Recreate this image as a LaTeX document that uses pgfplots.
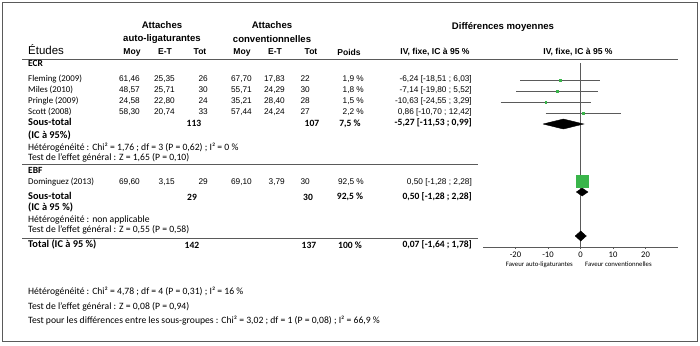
\documentclass[border=0pt]{standalone}
\usepackage{fontspec}
\setmainfont{Carlito}
\newfontfamily\arial{Liberation Sans}
\usepackage{pgfplots}
\pgfplotsset{compat=1.18}
\definecolor{fgreen}{RGB}{57,181,74}
\definecolor{lgray}{RGB}{90,90,90}
\newcommand\row[9]{%
 \node[num] at (140,#1) {#2};
 \node[num] at (175,#1) {#3};
 \node[num] at (208,#1) {#4};
 \node[num] at (252,#1) {#5};
 \node[num] at (285,#1) {#6};
 \node[num] at (310,#1) {#7};
 \node[num] at (364,#1) {#8};
 \node[num] at (472,#1) {#9};}
\begin{document}
\begin{tikzpicture}[x=1bp,y=-1bp,
  hdr/.style={inner sep=0pt,font=\arial\bfseries\fontsize{9.6}{11}\selectfont},
  ch/.style={inner sep=0pt,font=\arial\bfseries\fontsize{8.6}{10}\selectfont},
  nm/.style={inner sep=0pt,anchor=mid west,font=\fontsize{8.9}{10}\selectfont},
  num/.style={inner sep=0pt,anchor=mid east,font=\arial\fontsize{8.3}{10}\selectfont},
  grp/.style={inner sep=0pt,anchor=mid west,font=\bfseries\fontsize{9.5}{11}\selectfont},
  sb/.style={inner sep=0pt,font=\bfseries\fontsize{10.4}{12}\selectfont},
  sbn/.style={inner sep=0pt,font=\bfseries\fontsize{9.6}{12}\selectfont},
  tx/.style={inner sep=0pt,anchor=mid west,font=\fontsize{9.7}{11}\selectfont},
  ft/.style={inner sep=0pt,anchor=mid west,font=\fontsize{9.7}{11}\selectfont}]
\useasboundingbox (0,0) rectangle (700,345);
\draw[lgray, line width=1.2bp] (2.5,2.5) rectangle (697.5,341.5);
% headers
\node[hdr] at (162,25) {Attaches};
\node[hdr] at (162,39) {auto-ligaturantes};
\node[hdr] at (272,25) {Attaches};
\node[hdr] at (272,39) {conventionnelles};
\node[hdr] at (503,27) {Différences moyennes};
\node[inner sep=0pt,anchor=mid west,font=\arial\fontsize{11.5}{13}\selectfont] at (28,52) {Études};
\node[ch] at (132,52) {Moy};
\node[ch] at (165,52) {E-T};
\node[ch] at (200,52) {Tot};
\node[ch] at (242,52) {Moy};
\node[ch] at (275,52) {E-T};
\node[ch] at (311,52) {Tot};
\node[ch] at (349,52) {Poids};
\node[ch] at (435,52) {IV, fixe, IC à 95 \%};
\node[ch] at (578,52) {IV, fixe, IC à 95 \%};
\draw[lgray, line width=1.1bp] (22,59.5) -- (678,59.5);
% ECR
\node[grp] at (28,64.5) {ECR};
\node[nm] at (28,79.5) {Fleming (2009)};
\node[nm] at (28,90.5) {Miles (2010)};
\node[nm] at (28,101.5) {Pringle (2009)};
\node[nm] at (28,112.5) {Scott (2008)};
\row{79.5}{61,46}{25,35}{26}{67,70}{17,83}{22}{1,9 \%}{-6,24 [-18,51 ; 6,03]}
\row{90.5}{48,57}{25,71}{30}{55,71}{24,29}{30}{1,8 \%}{-7,14 [-19,80 ; 5,52]}
\row{101.5}{24,58}{22,80}{24}{35,21}{28,40}{28}{1,5 \%}{-10,63 [-24,55 ; 3,29]}
\row{112.5}{58,30}{20,74}{33}{57,44}{24,24}{27}{2,2 \%}{0,86 [-10,70 ; 12,42]}
\row{182}{69,60}{3,15}{29}{69,10}{3,79}{30}{92,5 \%}{0,50 [-1,28 ; 2,28]}
\node[sb,anchor=mid west] at (28,123.5) {Sous-total};
\node[sbn] at (194,123.5) {113};
\node[sbn] at (312,123.5) {107};
\node[sbn] at (350,123.5) {7,5 \%};
\node[sbn,anchor=mid east] at (472,123.5) {-5,27 [-11,53 ; 0,99]};
\node[sb,anchor=mid west] at (28,136.5) {(IC à 95\%)};
\node[tx] at (28,148) {Hétérogénéité : Chi² = 1,76 ; df = 3 (P = 0,62) ; I² = 0 \%};
\node[tx] at (28,158.5) {Test de l’effet général : Z = 1,65 (P = 0,10)};
\draw[lgray, line width=1bp] (22,164.5) -- (478,164.5);
% EBF
\node[grp] at (28,171) {EBF};
\node[nm] at (28,182) {Dominguez (2013)};
\node[sb,anchor=mid west] at (28,197) {Sous-total};
\node[sbn] at (192,197) {29};
\node[sbn] at (308,197) {30};
\node[sbn] at (350,197) {92,5 \%};
\node[sbn,anchor=mid east] at (472,197) {0,50 [-1,28 ; 2,28]};
\node[sb,anchor=mid west] at (28,208.5) {(IC à 95 \%)};
\node[tx] at (28,220) {Hétérogénéité : non applicable};
\node[tx] at (28,230.5) {Test de l’effet général : Z = 0,55 (P = 0,58)};
\draw[lgray, line width=1bp] (22,238) -- (478,238);
\node[sb,anchor=mid west] at (28,245) {Total (IC à 95 \%)};
\node[sbn] at (192,245) {142};
\node[sbn] at (309,245) {137};
\node[sbn] at (350,245) {100 \%};
\node[sbn,anchor=mid east] at (472,245) {0,07 [-1,64 ; 1,78]};
% footnotes
\node[ft] at (28,292.5) {Hétérogénéité : Chi² = 4,78 ; df = 4 (P = 0,31) ; I² = 16 \%};
\node[ft] at (28,307) {Test de l’effet général : Z = 0,08 (P = 0,94)};
\node[ft] at (28,321.5) {Test pour les différences entre les sous-groupes : Chi² = 3,02 ; df = 1 (P = 0,08) ; I² = 66,9 \%};
% forest plot
\begin{axis}[at={(483bp,-247bp)}, anchor=south west,
  scale only axis, width=195bp, height=184bp,
  xmin=-30, xmax=30, ymin=63, ymax=247, y dir=reverse,
  axis x line=bottom, axis y line=none,
  axis line style={-, lgray, line width=0.9bp},
  xtick={-20,-10,0,10,20},
  xticklabels={-20,-10,0,10,20},
  tick align=outside, major tick length=2bp,
  tick style={lgray, line width=0.6bp},
  x tick label style={font=\fontsize{8.6}{9}\selectfont, inner sep=1pt, yshift=-1.5bp},
  clip=false]
\addplot[lgray, line width=0.9bp] coordinates {(0,63) (0,247)};
% study CIs
\addplot[lgray, line width=0.9bp] coordinates {(-18.51,80) (6.03,80)};
\addplot[lgray, line width=0.9bp] coordinates {(-19.80,91) (5.52,91)};
\addplot[lgray, line width=0.9bp] coordinates {(-24.55,102) (3.29,102)};
\addplot[lgray, line width=0.9bp] coordinates {(-10.70,113) (12.42,113)};
\addplot[lgray, line width=0.9bp] coordinates {(-1.28,181) (2.28,181)};
\addplot[only marks, mark=square*, mark size=0.7bp, fgreen] coordinates {(-6.24,80) (-7.14,91) (-10.63,102) (0.86,113)};
\addplot[only marks, mark=square*, mark size=5.8bp, fgreen] coordinates {(0.50,181)};
% diamonds
\addplot[fill=black, draw=black] coordinates {(-11.53,124) (-5.27,119) (0.99,124) (-5.27,129) (-11.53,124)};
\addplot[fill=black, draw=black] coordinates {(-1.28,192) (0.50,188) (2.28,192) (0.50,196) (-1.28,192)};
\addplot[fill=black, draw=black] coordinates {(-1.64,236) (0.07,231) (1.78,236) (0.07,241) (-1.64,236)};
\end{axis}
\node[inner sep=0pt,anchor=mid east,font=\fontsize{6.8}{8}\selectfont] at (573,264) {Faveur auto-ligaturantes};
\node[inner sep=0pt,anchor=mid west,font=\fontsize{6.8}{8}\selectfont] at (585,264) {Faveur conventionnelles};
\end{tikzpicture}
\end{document}
